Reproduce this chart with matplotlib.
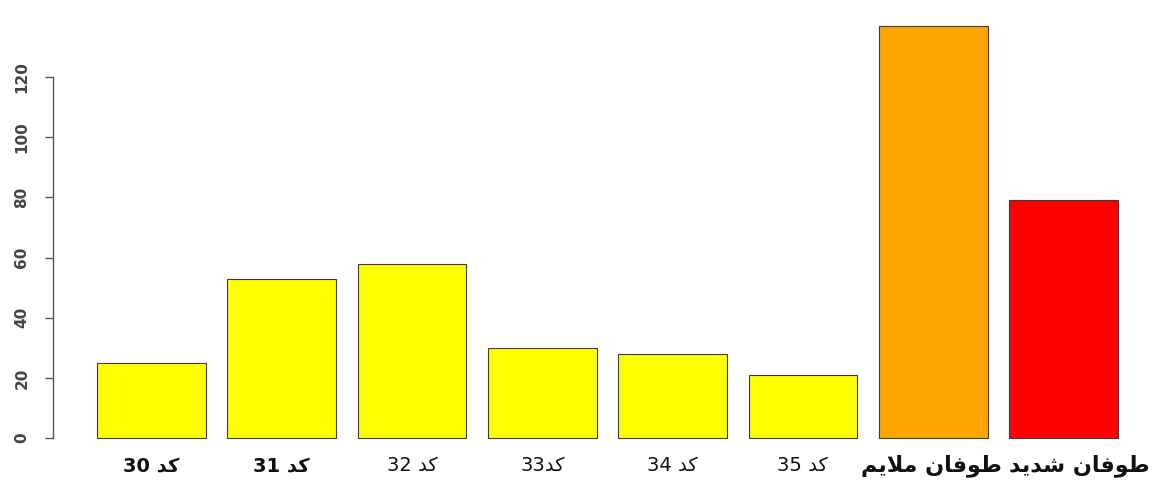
import re
import matplotlib
matplotlib.use('Agg')
import matplotlib.pyplot as plt
import matplotlib.transforms as mtransforms
import numpy as np

# ---- data ----
categories = ['کد 30', 'کد 31', 'کد 32', 'کد33', 'کد 34', 'کد 35', 'طوفان ملایم', 'طوفان شدید']
values = [25, 53, 58, 30, 28, 21, 137, 79]
bar_colors = ['#FFFF00'] * 6 + ['#FFA500', '#FF0000']
y_ticks = [0, 20, 40, 60, 80, 100, 120]

# ---- minimal Arabic/Persian shaping (matplotlib has no bidi/shaping) ----
FORMS = {  # isolated, final, initial, medial
    'ک': ('\uFB8E', '\uFB8F', '\uFB90', '\uFB91'),
    'د': ('\uFEA9', '\uFEAA', None, None),
    'ط': ('\uFEC1', '\uFEC2', '\uFEC3', '\uFEC4'),
    'و': ('\uFEED', '\uFEEE', None, None),
    'ف': ('\uFED1', '\uFED2', '\uFED3', '\uFED4'),
    'ا': ('\uFE8D', '\uFE8E', None, None),
    'ن': ('\uFEE5', '\uFEE6', '\uFEE7', '\uFEE8'),
    'م': ('\uFEE1', '\uFEE2', '\uFEE3', '\uFEE4'),
    'ل': ('\uFEDD', '\uFEDE', '\uFEDF', '\uFEE0'),
    'ی': ('\uFBFC', '\uFBFD', '\uFBFE', '\uFBFF'),
    'ش': ('\uFEB5', '\uFEB6', '\uFEB7', '\uFEB8'),
}
LAM_ALEF = ('\uFEFB', '\uFEFC')


def shape(text):
    out = []
    i = 0
    n = len(text)
    while i < n:
        ch = text[i]
        if ch not in FORMS:
            out.append(ch)
            i += 1
            continue
        prev = text[i - 1] if i > 0 else ''
        joins_prev = prev in FORMS and FORMS[prev][2] is not None
        if ch == 'ل' and i + 1 < n and text[i + 1] == 'ا':
            out.append(LAM_ALEF[1] if joins_prev else LAM_ALEF[0])
            i += 2
            continue
        nxt = text[i + 1] if i + 1 < n else ''
        joins_next = nxt in FORMS and FORMS[ch][2] is not None
        f = FORMS[ch]
        if joins_prev and joins_next:
            out.append(f[3])
        elif joins_prev:
            out.append(f[1])
        elif joins_next:
            out.append(f[2])
        else:
            out.append(f[0])
        i += 1
    vis = ''.join(out)[::-1]
    return re.sub(r'[0-9]+', lambda m: m.group(0)[::-1], vis)


plt.rcParams['font.family'] = ['DejaVu Sans']

fig = plt.figure(figsize=(11.52, 4.95), dpi=100)
ax = fig.add_axes([0, 0, 1, 1])

n = len(values)
x = 0.7 + 1.2 * np.arange(n)
ax.bar(x, values, width=1.0, color=bar_colors, edgecolor='#3a3a3a', linewidth=0.8)

ax.set_xlim(-0.693, 9.914)
ax.set_ylim(-18.95, 145.6)

for s in ['top', 'right', 'bottom']:
    ax.spines[s].set_visible(False)
ax.spines['left'].set_position(('data', -0.205))
ax.spines['left'].set_bounds(0, 120)
ax.spines['left'].set_color('#555555')
ax.spines['left'].set_linewidth(1.0)

ax.set_xticks([])
ax.set_yticks(y_ticks)
ax.set_yticklabels([str(t) for t in y_ticks], rotation=90, va='center')
ax.tick_params(axis='y', direction='out', length=6, width=1.0, color='#555555',
               pad=11, labelsize=11, labelcolor='#444444')
for lab in ax.get_yticklabels():
    lab.set_fontweight('bold')

weights = ['bold', 'bold', 'normal', 'normal', 'normal', 'normal', 'bold', 'bold']
sizes = [14, 14, 14, 14, 14, 14, 16, 16]
shift_px = [0, 0, 0, 0, 0, 0, -2, 16]
for xi, lab, w, fs, dx in zip(x, categories, weights, sizes, shift_px):
    tr = ax.transData + mtransforms.ScaledTranslation(dx / 100.0, 0, fig.dpi_scale_trans)
    ax.text(xi, -9.3, shape(lab), ha='center', va='center', fontsize=fs,
            fontweight=w, color='#111111', transform=tr)

fig.savefig('out.png', dpi=100, facecolor='white')
